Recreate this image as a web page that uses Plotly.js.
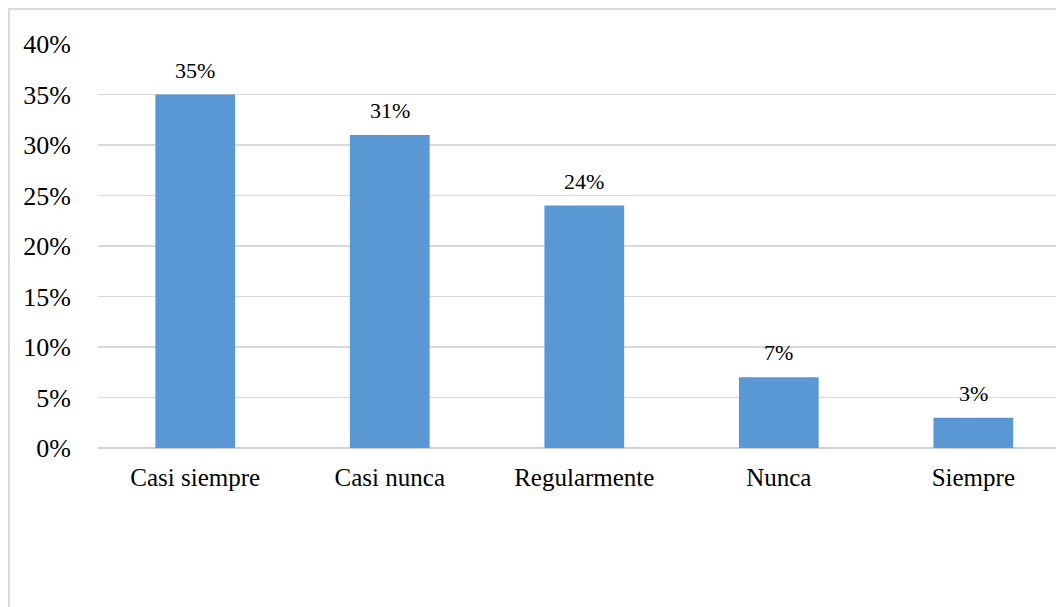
<!DOCTYPE html>
<html>
<head>
<meta charset="utf-8">
<script src="https://cdn.plot.ly/plotly-3.0.1.min.js"></script>
<style>
  html, body { margin: 0; padding: 0; background: #ffffff; overflow: hidden; }
  #frame { position: absolute; left: 8px; top: 8px; width: 2000px; height: 2000px;
           border: 2px solid #d9d9d9; box-sizing: border-box; }
  #chart { position: absolute; left: 0; top: 0; width: 1056px; height: 607px; }
</style>
</head>
<body>
<div id="frame"></div>
<div id="chart"></div>
<script>
const categories = ["Casi siempre", "Casi nunca", "Regularmente", "Nunca", "Siempre"];
const values = [35, 31, 24, 7, 3];
const labels = ["35%", "31%", "24%", "7%", "3%"];
const yTickVals = [0, 5, 10, 15, 20, 25, 30, 35, 40];
const yTickText = ["0%", "5%", "10%", "15%", "20%", "25%", "30%", "35%", "40%"];

const font = "Liberation Serif";

const trace = {
  type: "bar",
  x: categories,
  y: values,
  width: 0.41,
  marker: { color: "#5a97d5", line: { width: 0 } },
  hoverinfo: "skip"
};

const annotations = categories.map((c, i) => ({
  x: c, y: values[i], xref: "x", yref: "y",
  text: labels[i], showarrow: false,
  yanchor: "bottom", yshift: 10,
  font: { family: font, size: 22, color: "#000000" }
}));

const layout = {
  width: 1056, height: 607,
  margin: { l: 98, r: 0, t: 44, b: 159 },
  paper_bgcolor: "rgba(0,0,0,0)",
  plot_bgcolor: "rgba(0,0,0,0)",
  showlegend: false,
  font: { family: font, color: "#000000" },
  xaxis: {
    range: [-0.5, 4.425],
    showgrid: false, zeroline: false, showline: false,
    ticks: "", ticklabelstandoff: 12,
    tickfont: { family: font, size: 25, color: "#000000" },
    fixedrange: true
  },
  yaxis: {
    range: [0, 40],
    tickvals: yTickVals, ticktext: yTickText,
    showgrid: true, gridcolor: "#d9d9d9", gridwidth: 1.5,
    zeroline: true, zerolinecolor: "#d0d0d0", zerolinewidth: 2,
    showline: false, ticks: "", ticklabelstandoff: 26,
    tickfont: { family: font, size: 26, color: "#000000" },
    fixedrange: true
  },
  annotations: annotations
};

Plotly.newPlot("chart", [trace], layout, { displayModeBar: false, staticPlot: true });
</script>
</body>
</html>
